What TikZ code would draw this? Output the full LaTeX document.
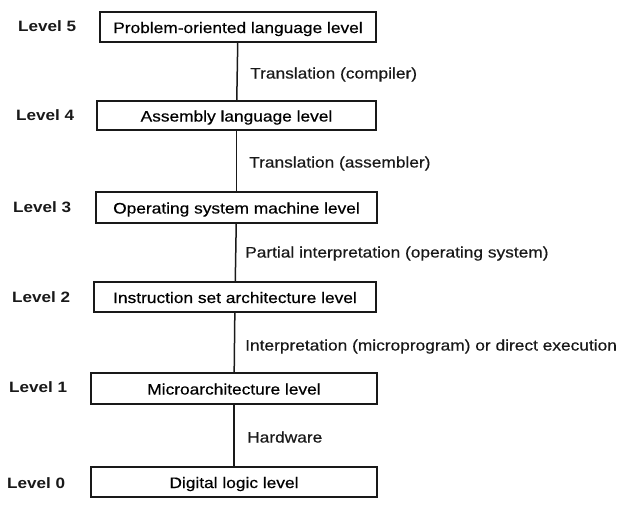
\documentclass[tikz,border=0pt]{standalone}
\usepackage{fontspec}
\setmainfont[FakeStretch=1.14, UprightFeatures={FakeBold=0.5}]{Liberation Sans}
\begin{document}
\begin{tikzpicture}[x=1pt,y=-1pt,
  ink/.style={color=black!90},
  levelbox/.style={draw=black!90, line width=1.7pt, inner sep=0pt,
    text height=12pt, text depth=0pt,
    font=\fontsize{15.2}{18}\selectfont},
  levelname/.style={ink, anchor=west, inner sep=0pt,
    font=\fontsize{15}{18}\selectfont\bfseries},
  steplabel/.style={ink, anchor=base west, inner sep=0pt,
    font=\fontsize{15.2}{18}\selectfont},
  spine/.style={draw=black!90, line width=1.5pt}]
\useasboundingbox (0,0) rectangle (628,515);

% level boxes
\node[levelbox, minimum width=276pt, minimum height=30pt] (b5) at (238,27)   {Problem-oriented language level};
\node[levelbox, minimum width=279pt, minimum height=29pt] (b4) at (236.5,115.5) {Assembly language level};
\node[levelbox, minimum width=281pt, minimum height=31pt] (b3) at (236.5,207.5) {Operating system machine level};
\node[levelbox, minimum width=282pt, minimum height=30pt] (b2) at (235,297)  {Instruction set architecture level};
\node[levelbox, minimum width=286pt, minimum height=31pt] (b1) at (234,388.5) {Microarchitecture level};
\node[levelbox, minimum width=286pt, minimum height=30pt] (b0) at (234,482)  {Digital logic level};

% level names
\node[levelname] (n5) at (18,26)  {Level 5};
\node[levelname] (n4) at (16,115) {Level 4};
\node[levelname] (n3) at (13,207) {Level 3};
\node[levelname] (n2) at (12,297) {Level 2};
\node[levelname] (n1) at (9,387)  {Level 1};
\node[levelname] (n0) at (7,483)  {Level 0};

% links between adjacent levels
\draw[spine] (b5) -- (b4);
\draw[spine] (b4) -- (b3);
\draw[spine] (b3) -- (b2);
\draw[spine] (b2) -- (b1);
\draw[spine] (b1) -- (b0);

% how each level is carried out on the one below
\node[steplabel] (t54) at (250,78.5)  {Translation (compiler)};
\node[steplabel] (t43) at (249,167.5) {Translation (assembler)};
\node[steplabel] (t32) at (245,257.5) {Partial interpretation (operating system)};
\node[steplabel] (t21) at (245,350.5) {Interpretation (microprogram) or direct execution};
\node[steplabel] (t10) at (247,442.5) {Hardware};
\end{tikzpicture}
\end{document}
